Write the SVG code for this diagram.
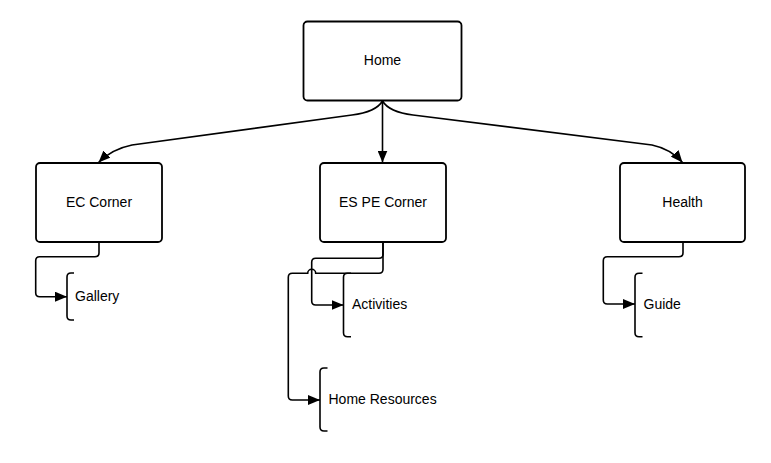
<svg xmlns="http://www.w3.org/2000/svg" width="771" height="463" viewBox="0 0 771 463">
  <style>
    .box { fill: #ffffff; stroke: #000000; stroke-width: 1.8; }
    .lbl { font-family: "Liberation Sans", Arial, sans-serif; font-size: 14px; fill: #000000; dominant-baseline: central; }
    .mid { text-anchor: middle; }
    .wire { fill: none; stroke: #000000; stroke-width: 1.6; }
    .brace { fill: none; stroke: #000000; stroke-width: 1.6; }
  </style>
  <defs>
    <marker id="arrow" markerUnits="userSpaceOnUse" markerWidth="12" markerHeight="10" refX="12" refY="5" orient="auto">
      <path d="M0,0 L12,5 L0,10 z" fill="#000000"/>
    </marker>
  </defs>
  <rect width="771" height="463" fill="#ffffff"/>

  <g id="connectors">
    <path class="wire" d="M382.5,101 Q376,112 352,115 L132,145 Q112,149 98.5,162.5" marker-end="url(#arrow)"/>
    <path class="wire" d="M382.5,101 V162.5" marker-end="url(#arrow)"/>
    <path class="wire" d="M382.5,101 Q389,112 413,115 L652,145 Q671,149 682.5,162.5" marker-end="url(#arrow)"/>
    <path class="wire" d="M99,242 V252.7 Q99,256.7 95,256.7 H39.7 Q35.7,256.7 35.7,260.7 V292.7 Q35.7,296.7 39.7,296.7 H67" marker-end="url(#arrow)"/>
    <path class="wire" d="M383,242 V254.3 Q383,258.3 379,258.3 H315.7 Q311.7,258.3 311.7,262.3 V301 Q311.7,305 315.7,305 H343.5" marker-end="url(#arrow)"/>
    <path class="wire" d="M383,242 V269.3 Q383,273.3 379,273.3 H315.7 A4,4 0 0 0 307.7,273.3 H292.3 Q288.3,273.3 288.3,277.3 V396 Q288.3,400 292.3,400 H320" marker-end="url(#arrow)"/>
    <path class="wire" d="M683,242 V252.7 Q683,256.7 679,256.7 H607.3 Q603.3,256.7 603.3,260.7 V300 Q603.3,304 607.3,304 H635" marker-end="url(#arrow)"/>
  </g>

  <g id="home">
    <rect class="box" x="303.5" y="21.5" width="158" height="79" rx="4"/>
    <text class="lbl mid" x="382.5" y="60">Home</text>
  </g>
  <g id="ec-corner">
    <rect class="box" x="36" y="163" width="126" height="79" rx="4"/>
    <text class="lbl mid" x="99" y="202">EC Corner</text>
  </g>
  <g id="es-pe-corner">
    <rect class="box" x="320" y="163" width="126" height="79" rx="4"/>
    <text class="lbl mid" x="383" y="202">ES PE Corner</text>
  </g>
  <g id="health">
    <rect class="box" x="620" y="163" width="125" height="79" rx="4"/>
    <text class="lbl mid" x="682.5" y="202">Health</text>
  </g>

  <g id="gallery">
    <path class="brace" d="M74,273 H71 Q67,273 67,277 V316 Q67,320 71,320 H74"/>
    <text class="lbl" x="75" y="296">Gallery</text>
  </g>
  <g id="activities">
    <path class="brace" d="M351,273.3 H347.5 Q343.5,273.3 343.5,277.3 V332.7 Q343.5,336.7 347.5,336.7 H351"/>
    <text class="lbl" x="352" y="304">Activities</text>
  </g>
  <g id="home-resources">
    <path class="brace" d="M327.5,368 H324 Q320,368 320,372 V427 Q320,431 324,431 H327.5"/>
    <text class="lbl" x="328.5" y="399">Home Resources</text>
  </g>
  <g id="guide">
    <path class="brace" d="M642.5,273.3 H639 Q635,273.3 635,277.3 V332.7 Q635,336.7 639,336.7 H642.5"/>
    <text class="lbl" x="643.5" y="303.5">Guide</text>
  </g>
</svg>
